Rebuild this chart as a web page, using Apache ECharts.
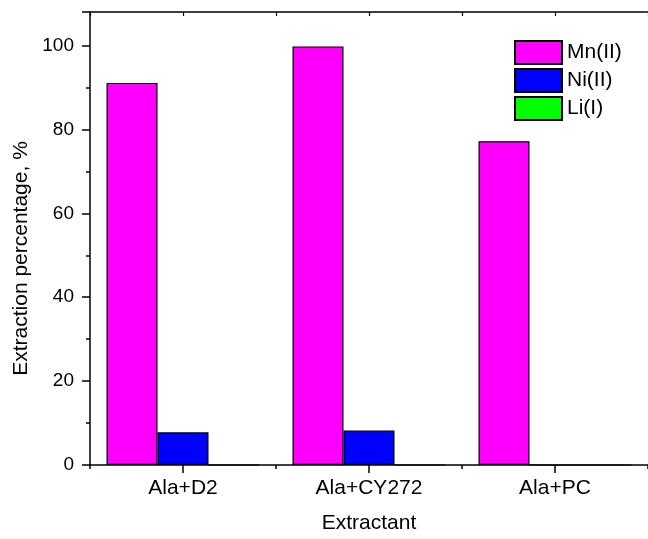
<!DOCTYPE html>
<html>
<head>
<meta charset="utf-8">
<script src="https://cdn.jsdelivr.net/npm/echarts@6/dist/echarts.min.js"></script>
<style>
  html, body { margin: 0; padding: 0; background: #fff; }
  #chart { width: 648px; height: 539px; }
</style>
</head>
<body>
<div id="chart"></div>
<script>
// Extraction of metal ions by three extractant systems
const extractants = ['Ala+D2', 'Ala+CY272', 'Ala+PC'];
const seriesNames = ['Mn(II)', 'Ni(II)', 'Li(I)'];
const mnValues = [91.1, 99.8, 77.2];
const niValues = [7.8, 8.2, 0];
const liValues = [0, 0, 0];
const yTicks = { min: 0, max: 108, interval: 20 };

const colors = ['#FF00FF', '#0000FF', '#00FF00'];
const FONT = 'Liberation Sans, Arial, sans-serif';

const chart = echarts.init(document.getElementById('chart'), null, { renderer: 'canvas' });

function catAxis(extra) {
  return Object.assign({
    type: 'category',
    data: extractants,
    boundaryGap: true,
    axisLine: { show: false, lineStyle: { color: '#000', width: 1.5 } },
    axisLabel: { show: false },
    axisTick: { show: false },
    splitLine: { show: false }
  }, extra);
}

const seriesValues = [mnValues, niValues, liValues];

chart.setOption({
  animation: false,
  backgroundColor: '#fff',
  grid: { left: 90, top: 12, width: 567, bottom: 69, containLabel: false },
  legend: {
    orient: 'vertical',
    left: 509,
    top: 35,
    itemWidth: 47,
    itemHeight: 23,
    itemGap: 3,
    icon: 'rect',
    textStyle: { fontFamily: FONT, fontSize: 21, color: '#000' },
    data: seriesNames
  },
  xAxis: [
    catAxis({
      position: 'bottom',
      axisLine: { show: true, lineStyle: { color: '#000', width: 1.5 } },
      axisTick: { show: true, alignWithLabel: true, length: 8, inside: false, lineStyle: { color: '#000', width: 1.5 } },
      axisLabel: { show: true, fontFamily: FONT, fontSize: 21, color: '#000', margin: 13 },
      name: 'Extractant',
      nameLocation: 'middle',
      nameGap: 48,
      nameTextStyle: { fontFamily: FONT, fontSize: 21, color: '#000' }
    }),
    catAxis({
      position: 'bottom',
      axisTick: { show: true, length: 4, inside: false, lineStyle: { color: '#000', width: 1.5 } }
    }),
    catAxis({
      position: 'top',
      axisLine: { show: true, lineStyle: { color: '#000', width: 1.5 } },
      axisTick: { show: true, alignWithLabel: true, length: 4, inside: true, lineStyle: { color: '#000', width: 1.2 } }
    }),
    catAxis({
      position: 'top',
      axisTick: { show: true, length: 4, inside: true, lineStyle: { color: '#000', width: 1.2 } }
    })
  ],
  yAxis: {
    type: 'value',
    min: yTicks.min,
    max: yTicks.max,
    interval: yTicks.interval,
    axisLine: { show: true, lineStyle: { color: '#000', width: 1.5 } },
    axisTick: { show: true, length: 8, lineStyle: { color: '#000', width: 1.5 } },
    minorTick: { show: true, splitNumber: 2, length: 4, lineStyle: { color: '#000', width: 1.5 } },
    splitLine: { show: false },
    axisLabel: {
      fontFamily: FONT, fontSize: 19, color: '#000', margin: 16,
      formatter: v => (v % 20 === 0 && v <= 100 ? String(v) : '')
    },
    name: 'Extraction percentage, %',
    nameLocation: 'middle',
    nameGap: 57,
    nameTextStyle: { fontFamily: FONT, fontSize: 21, color: '#000', padding: [0, 40, 0, 0] }
  },
  series: seriesNames.map((name, i) => ({
    name,
    type: 'bar',
    xAxisIndex: 0,
    data: seriesValues[i],
    barWidth: 51,
    barGap: '0%',
    itemStyle: { color: colors[i], borderColor: '#000', borderWidth: 1.2 }
  }))
});
</script>
</body>
</html>
